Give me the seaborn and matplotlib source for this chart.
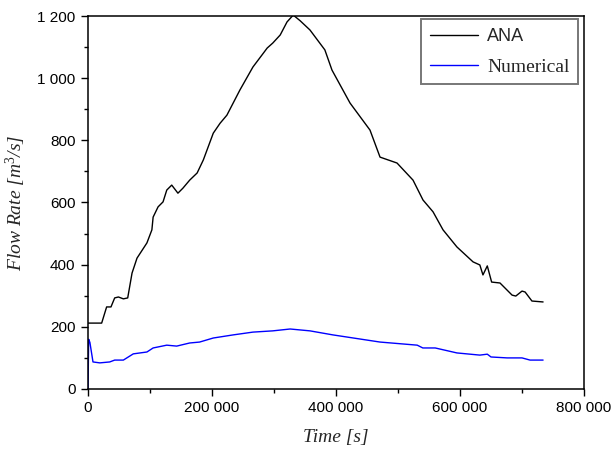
import pandas as pd
import seaborn as sns
import matplotlib.pyplot as plt
import numpy as np
from matplotlib.ticker import FuncFormatter, MultipleLocator

# values (time in s, flow rate in m3/s)
t_ana = [0, 22000, 30000, 37000, 43000, 49000, 57000, 64000, 71000, 79000,
         95000, 103000, 105000, 113000, 121000, 127000, 135000, 145000, 153000,
         164000, 176000, 186000, 202000, 213000, 224000, 245000, 266000, 283000,
         289000, 298000, 310000, 321000, 331000, 342000, 358000, 382000, 393500,
         422600, 454800, 471000, 498400, 524200, 540300, 556500, 572600, 595000,
         621000, 632000, 637000, 644000, 651000, 664500, 684000, 690000, 700000,
         705000, 716000, 734000]
q_ana = [212, 212, 264, 264, 293, 296, 290, 293, 373, 421,
         470, 512, 553, 586, 602, 640, 656, 630, 646,
         672, 695, 737, 823, 855, 881, 962, 1036, 1081,
         1097, 1113, 1139, 1181, 1203, 1185, 1155, 1091, 1026,
         920, 833, 746, 727, 672, 608, 570, 512, 457,
         409, 399, 367, 396, 344, 341, 302, 299, 315,
         312, 283, 280]

t_num = [0, 1000, 3000, 8000, 19000, 35000, 43000, 57000, 73000, 95000,
         105000, 127000, 143000, 164000, 180000, 202000, 234000, 266000, 298000,
         326000, 342000, 358000, 395000, 471000, 531000, 540000, 560000, 595000,
         632000, 644000, 650000, 676000, 700000, 713000, 734000]
q_num = [0, 160, 150, 87, 84, 87, 93, 93, 113, 119,
         132, 141, 138, 148, 151, 164, 174, 183, 187,
         193, 190, 187, 174, 151, 141, 132, 132, 116,
         109, 112, 103, 100, 100, 93, 93]

df = pd.concat([
    pd.DataFrame({"t": t_ana, "q": q_ana, "series": "ANA"}),
    pd.DataFrame({"t": t_num, "q": q_num, "series": "Numerical"}),
])

sns.set_style("ticks")
plt.rcParams['font.family'] = ['Liberation Sans', 'DejaVu Sans']
plt.rcParams['mathtext.fontset'] = 'custom'
plt.rcParams['mathtext.rm'] = 'Liberation Serif'
plt.rcParams['mathtext.it'] = 'Liberation Serif:italic'

fig = plt.figure(figsize=(6.13, 4.51), dpi=100)
ax = fig.add_axes([0.1436, 0.1375, 0.8091, 0.827])

sns.lineplot(data=df, x="t", y="q", hue="series",
             palette={"ANA": "black", "Numerical": "#0000ff"},
             linewidth=1.0, estimator=None, sort=False, ax=ax)

ax.set_xlim(0, 800000)
ax.set_ylim(0, 1200)
ax.xaxis.set_major_locator(MultipleLocator(200000))
ax.xaxis.set_minor_locator(MultipleLocator(100000))
ax.yaxis.set_major_locator(MultipleLocator(200))
ax.yaxis.set_minor_locator(MultipleLocator(100))

spaced = FuncFormatter(lambda v, p: f"{int(v):,}".replace(",", " "))
ax.xaxis.set_major_formatter(spaced)
ax.yaxis.set_major_formatter(spaced)
ax.tick_params(which="both", direction="out", color="black", width=1)
ax.tick_params(which="major", length=5, labelsize=11, labelcolor="black", pad=4)
ax.tick_params(which="minor", length=3)
for s in ax.spines.values():
    s.set_color("black")
    s.set_linewidth(1.1)

ax.set_xlabel("Time [s]", fontfamily="Liberation Serif", fontstyle="italic",
              fontsize=14, labelpad=10)
ax.set_ylabel("Flow Rate [m$^{3}$/s]", fontfamily="Liberation Serif",
              fontstyle="italic", fontsize=14)
ax.yaxis.set_label_coords(-0.122, 0.5)

leg = ax.legend(loc="upper right", fontsize=14, frameon=True, fancybox=False,
                edgecolor="#555555", handlelength=2.5, handletextpad=0.45,
                borderpad=0.45, labelspacing=0.65, borderaxespad=0,
                bbox_to_anchor=(0.988, 0.992))
leg.get_frame().set_linewidth(1.4)
leg.get_texts()[0].set_fontsize(13)
leg.get_texts()[1].set_fontfamily("Liberation Serif")

fig.savefig("out.png", dpi=100)
